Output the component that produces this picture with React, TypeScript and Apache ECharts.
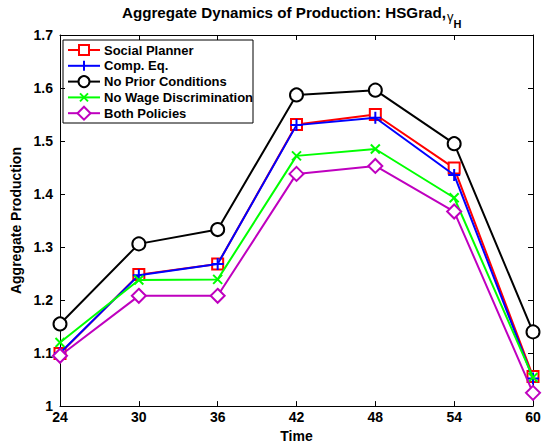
import React, { useEffect, useRef } from "react";
import * as echarts from "echarts";

const times = [24, 30, 36, 42, 48, 54, 60];
const socialPlanner = [1.099, 1.248, 1.268, 1.531, 1.55, 1.449, 1.056];
const compEq = [1.1, 1.247, 1.268, 1.53, 1.544, 1.436, 1.052];
const noPriorConditions = [1.155, 1.306, 1.333, 1.587, 1.596, 1.495, 1.14];
const noWageDiscrimination = [1.12, 1.238, 1.239, 1.472, 1.485, 1.393, 1.054];
const bothPolicies = [1.095, 1.208, 1.208, 1.438, 1.453, 1.367, 1.025];
const yTicks = [1, 1.1, 1.2, 1.3, 1.4, 1.5, 1.6, 1.7];

const seriesNames = [
  "Social Planner",
  "Comp. Eq.",
  "No Prior Conditions",
  "No Wage Discrimination",
  "Both Policies",
];
const seriesColors = ["#ff0000", "#0000ff", "#000000", "#00ff00", "#bf00bf"];

const PLUS = "path://M0,-1L0,1M-1,0L1,0";
const CROSS = "path://M-1,-1L1,1M-1,1L1,-1";

const FONT = "'Liberation Sans', Arial, Helvetica, sans-serif";

export default function App() {
  const ref = useRef<HTMLDivElement>(null);

  useEffect(() => {
    if (!ref.current) return;
    const chart = echarts.init(ref.current, null, { renderer: "svg" });

    const data = [socialPlanner, compEq, noPriorConditions, noWageDiscrimination, bothPolicies];
    const symbols = ["emptyRect", PLUS, "emptyCircle", CROSS, "emptyDiamond"];
    const symbolSizes = [11, 12, 13, 9, 14];

    const series = data.map((vals, i) => ({
      name: seriesNames[i],
      type: "line",
      data: vals.map((v, j) => [times[j], v]),
      symbol: symbols[i],
      symbolSize: symbolSizes[i],
      showSymbol: true,
      lineStyle: { color: seriesColors[i], width: 2 },
      itemStyle: {
        color: seriesColors[i],
        borderColor: seriesColors[i],
        borderWidth: 2,
      },
      z: 2 + i,
    }));

    // legend box drawn with graphic elements
    const lx = 63;
    const ly = 40;
    const rowH = 15.8;
    const legendChildren: any[] = [
      {
        type: "rect",
        shape: { x: 0, y: 0, width: 190, height: 83 },
        style: { fill: "#ffffff", stroke: "#000000", lineWidth: 1 },
      },
    ];
    seriesNames.forEach((name, i) => {
      const cy = 10 + i * rowH;
      const c = seriesColors[i];
      legendChildren.push({
        type: "line",
        shape: { x1: 5, y1: cy, x2: 37, y2: cy },
        style: { stroke: c, lineWidth: 2 },
      });
      const mx = 21;
      if (i === 0) {
        legendChildren.push({
          type: "rect",
          shape: { x: mx - 5, y: cy - 5, width: 10, height: 10 },
          style: { fill: "#ffffff", stroke: c, lineWidth: 2 },
        });
      } else if (i === 1) {
        legendChildren.push({
          type: "line",
          shape: { x1: mx, y1: cy - 5, x2: mx, y2: cy + 5 },
          style: { stroke: c, lineWidth: 2 },
        });
      } else if (i === 2) {
        legendChildren.push({
          type: "circle",
          shape: { cx: mx, cy, r: 5.5 },
          style: { fill: "#ffffff", stroke: c, lineWidth: 2 },
        });
      } else if (i === 3) {
        legendChildren.push(
          {
            type: "line",
            shape: { x1: mx - 4, y1: cy - 4, x2: mx + 4, y2: cy + 4 },
            style: { stroke: c, lineWidth: 2 },
          },
          {
            type: "line",
            shape: { x1: mx - 4, y1: cy + 4, x2: mx + 4, y2: cy - 4 },
            style: { stroke: c, lineWidth: 2 },
          }
        );
      } else {
        legendChildren.push({
          type: "polygon",
          shape: {
            points: [
              [mx, cy - 6.5],
              [mx + 6.5, cy],
              [mx, cy + 6.5],
              [mx - 6.5, cy],
            ],
          },
          style: { fill: "#ffffff", stroke: c, lineWidth: 2 },
        });
      }
      legendChildren.push({
        type: "text",
        x: 41,
        y: cy,
        style: {
          text: name,
          fill: "#000000",
          font: `bold 13px ${FONT}`,
          textVerticalAlign: "middle",
        },
      });
    });

    // title with a Greek letter and a subscript
    const titleParts: any[] = [
      {
        type: "text",
        x: 446,
        y: 12.8,
        style: {
          text: "Aggregate Dynamics of Production: HSGrad,",
          fill: "#000",
          font: `bold 15.2px ${FONT}`,
          textAlign: "right",
          textVerticalAlign: "middle",
        },
      },
      {
        type: "text",
        x: 447,
        y: 16.5,
        style: {
          text: "γ",
          fill: "#000",
          font: `13px ${FONT}`,
          textAlign: "left",
          textVerticalAlign: "middle",
        },
      },
      {
        type: "text",
        x: 453.5,
        y: 23.5,
        style: {
          text: "H",
          fill: "#000",
          font: `bold 11px ${FONT}`,
          textAlign: "left",
          textVerticalAlign: "middle",
        },
      },
    ];

    const axisLine = { show: true, lineStyle: { color: "#000000", width: 1 } };
    const tickStyle = { show: true, inside: true, length: 5, lineStyle: { color: "#000000" } };
    const labelFont = { fontFamily: FONT, fontWeight: "bold", fontSize: 14, color: "#000" };

    chart.setOption({
      animation: false,
      backgroundColor: "#ffffff",
      textStyle: { fontFamily: FONT },
      grid: { left: 60, right: 15, top: 35, bottom: 37, containLabel: false },
      xAxis: [
        {
          type: "value",
          min: 24,
          max: 60,
          interval: 6,
          name: "Time",
          nameLocation: "middle",
          nameGap: 19,
          nameTextStyle: labelFont,
          axisLine,
          axisTick: tickStyle,
          splitLine: { show: false },
          axisLabel: { ...labelFont, margin: 4 },
        },
        {
          type: "value",
          position: "top",
          min: 24,
          max: 60,
          interval: 6,
          axisLine,
          axisTick: tickStyle,
          splitLine: { show: false },
          axisLabel: { show: false },
        },
      ],
      yAxis: [
        {
          type: "value",
          min: 1,
          max: 1.7,
          interval: 0.1,
          name: "Aggregate Production",
          nameLocation: "middle",
          nameGap: 27,
          nameTextStyle: labelFont,
          axisLine,
          axisTick: tickStyle,
          splitLine: { show: false },
          axisLabel: {
            ...labelFont,
            margin: 7,
            formatter: (v: number) => {
              const t = yTicks.find((y) => Math.abs(y - v) < 1e-6);
              return t === undefined ? "" : String(t);
            },
          },
        },
        {
          type: "value",
          position: "right",
          min: 1,
          max: 1.7,
          interval: 0.1,
          axisLine,
          axisTick: tickStyle,
          splitLine: { show: false },
          axisLabel: { show: false },
        },
      ],
      series,
      graphic: [
        { type: "group", x: 0, y: 0, z: 100, children: titleParts },
        { type: "group", x: lx, y: ly, z: 100, children: legendChildren },
      ],
    });

    return () => chart.dispose();
  }, []);

  return (
    <div
      ref={ref}
      style={{ position: "absolute", left: 0, top: 0, width: 548, height: 448 }}
    />
  );
}
